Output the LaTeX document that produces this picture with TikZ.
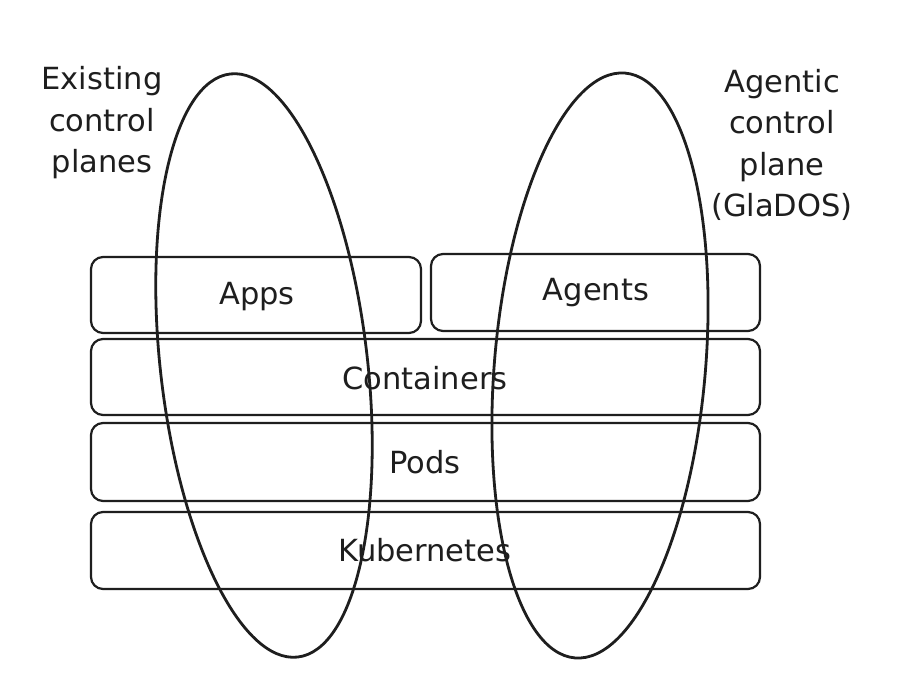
\documentclass[tikz,border=0pt]{standalone}
\usepackage{fontspec}
\setmainfont{DejaVu Sans}
\usetikzlibrary{shapes.geometric}
\definecolor{ink}{HTML}{1E1E1E}
\tikzset{
  layer/.style={draw=ink, line width=2.2pt, rounded corners=12pt},
  label/.style={text=ink, font=\fontsize{30.5}{41.5}\selectfont},
  plane/.style={draw=ink, line width=2.8pt, ellipse, inner sep=0pt},
  note/.style={text=ink, align=center, font=\fontsize{30.5}{41.5}\selectfont}
}
\begin{document}
\begin{tikzpicture}[x=1pt,y=-1pt]
\useasboundingbox[fill=white] (0,0) rectangle (902,684);
% layers
\draw[layer] (91,257) rectangle (421,333);
\node[label] (apps) at (257,297) {Apps};
\draw[layer] (431,254) rectangle (760,331);
\node[label] (agents) at (596,293) {Agents};
\draw[layer] (91,339) rectangle (760,415);
\node[label] (containers) at (425,378) {Containers};
\draw[layer] (91,423) rectangle (760,501);
\node[label] (pods) at (425,462) {Pods};
\draw[layer] (91,512) rectangle (760,589);
\node[label] (kube) at (425,550) {Kubernetes};
% planes
\node[plane, minimum width=207pt, minimum height=587pt, rotate=6.6] (left) at (264,365.5) {};
\node[plane, minimum width=211pt, minimum height=587pt, rotate=-4.9] (right) at (600,365.5) {};
% notes
\node[note] (existing) at (102,123) {Existing\\control\\planes};
\node[note] (agentic) at (782,145) {Agentic\\control\\plane\\(GlaDOS)};
\end{tikzpicture}
\end{document}
